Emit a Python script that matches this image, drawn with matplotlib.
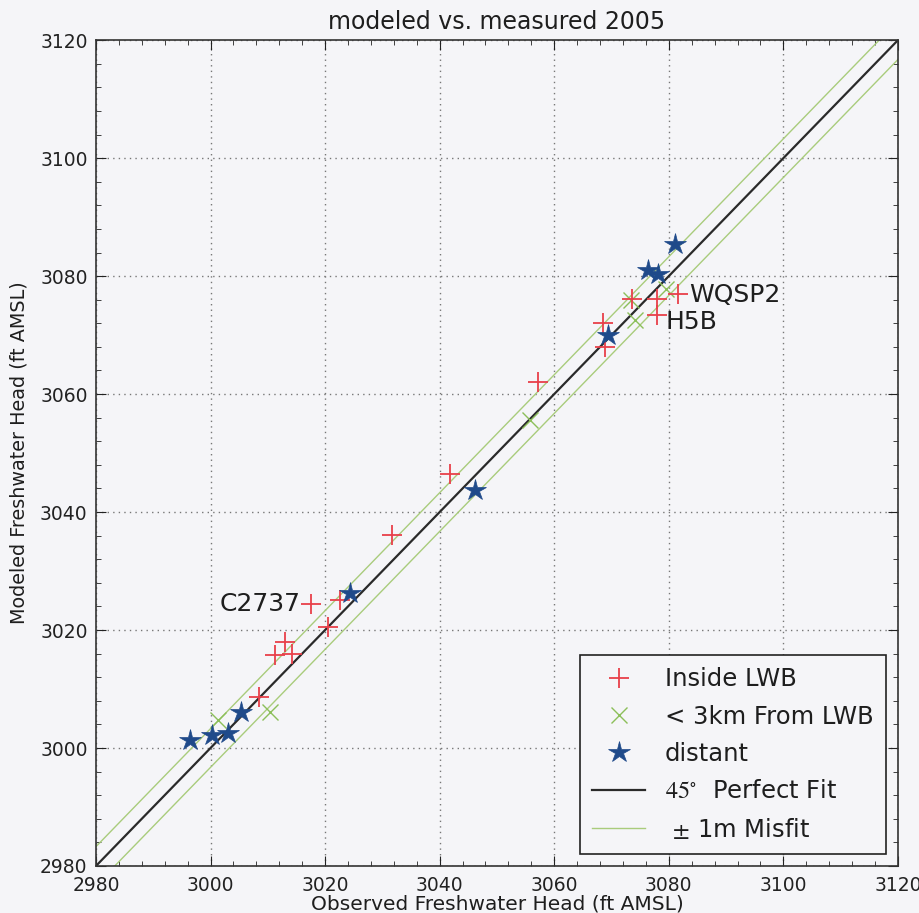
import matplotlib
matplotlib.use("Agg")
import matplotlib.pyplot as plt
from matplotlib.ticker import MultipleLocator, AutoMinorLocator
import numpy as np

plt.rcParams["mathtext.fontset"] = "stix"

# Wells inside the LWB boundary
inside_obs = [3008.4, 3011.2, 3013.0, 3014.2, 3017.6, 3020.5, 3022.6, 3031.7,
              3041.8, 3057.2, 3068.5, 3068.8, 3073.5, 3077.9, 3077.9, 3081.6]
inside_mod = [3008.6, 3015.8, 3018.0, 3016.0, 3024.4, 3020.5, 3025.1, 3036.1,
              3046.5, 3062.1, 3072.0, 3068.0, 3076.2, 3076.2, 3073.4, 3077.0]

# Wells less than 3 km from LWB
near_obs = [3001.3, 3010.4, 3055.8, 3073.4, 3074.1, 3079.6]
near_mod = [3004.7, 3006.1, 3055.6, 3076.0, 3072.5, 3077.9]

# Distant wells
dist_obs = [2996.4, 3000.2, 3003.1, 3005.4, 3024.3, 3046.2, 3069.4, 3076.4, 3078.1, 3081.1]
dist_mod = [3001.4, 3002.2, 3002.5, 3006.1, 3026.2, 3043.7, 3070.0, 3081.0, 3080.4, 3085.5]

# Labelled wells: (name, obs, mod)
labels = [("C2737", 3017.6, 3024.4), ("WQSP2", 3081.6, 3077.0), ("H5B", 3077.9, 3073.4)]

lims = [2980, 3120]
misfit_ft = 3.28  # 1 m in feet

bg = "#f5f5f8"
txt = "#1e1e1e"
fig = plt.figure(figsize=(9.2, 9.13), dpi=100, facecolor=bg)
ax = fig.add_axes([0.1043, 0.0515, 0.8717, 0.9045], facecolor=bg)

ax.plot(inside_obs, inside_mod, linestyle="none", marker="+", ms=14, mew=1.3,
        color="#e8404a", label="Inside LWB", zorder=4)
ax.plot(near_obs, near_mod, linestyle="none", marker="x", ms=11, mew=1.0,
        color="#8cbf5a", label="< 3km From LWB", zorder=3)
ax.plot(dist_obs, dist_mod, linestyle="none", marker="*", ms=16, mew=0.5,
        color="#1f4a8a", mec="#1f4a8a", label="distant", zorder=5)

x = np.array(lims, dtype=float)
ax.plot(x, x, color="#2a2a2a", lw=1.6, label=r"$45^{\circ}$  Perfect Fit", zorder=2)
ax.plot(x, x + misfit_ft, color="#a9cc7c", lw=1.0, label=r" $\pm$ 1m Misfit", zorder=2)
ax.plot(x, x - misfit_ft, color="#a9cc7c", lw=1.0, zorder=2)

offsets = {"C2737": ((-8, 0), "right"), "WQSP2": ((8, -1), "left"), "H5B": ((6, -5), "left")}
for name, xo, ym in labels:
    off, ha = offsets[name]
    ax.annotate(name, (xo, ym), xytext=off, textcoords="offset points",
                ha=ha, va="center", fontsize=18, color=txt)

ax.set_xlim(lims)
ax.set_ylim(lims)
ax.xaxis.set_major_locator(MultipleLocator(20))
ax.yaxis.set_major_locator(MultipleLocator(20))
ax.xaxis.set_minor_locator(AutoMinorLocator(5))
ax.yaxis.set_minor_locator(AutoMinorLocator(5))
ax.tick_params(which="both", direction="in", top=True, right=True, colors="#222222")
ax.tick_params(which="major", length=7, labelsize=13.5)
ax.tick_params(axis="x", which="major", pad=7)
ax.tick_params(axis="y", which="major", pad=6)
ax.tick_params(which="minor", length=3.5)
ax.grid(True, which="major", linestyle=(0, (1, 3)), color="#777777", lw=1.0)
for s in ax.spines.values():
    s.set_color("#333333")
    s.set_linewidth(1.2)

ax.set_title("modeled vs. measured 2005", fontsize=17, color=txt, pad=8)
ax.set_xlabel("Observed Freshwater Head (ft AMSL)", fontsize=14.5, color=txt, labelpad=0)
ax.set_ylabel("Modeled Freshwater Head (ft AMSL)", fontsize=13.8, color=txt, labelpad=8)

leg = ax.legend(loc="lower right", fontsize=17.5, numpoints=1, frameon=True,
                fancybox=False, borderpad=0.5, labelspacing=0.55,
                handlelength=2.2, handletextpad=0.8, borderaxespad=0.5)
leg.get_frame().set_edgecolor("#222222")
leg.get_frame().set_linewidth(1.2)
leg.get_frame().set_facecolor(bg)
leg.get_frame().set_alpha(1.0)
for t in leg.get_texts():
    t.set_color(txt)

fig.savefig("out.png", dpi=100, facecolor=bg)
